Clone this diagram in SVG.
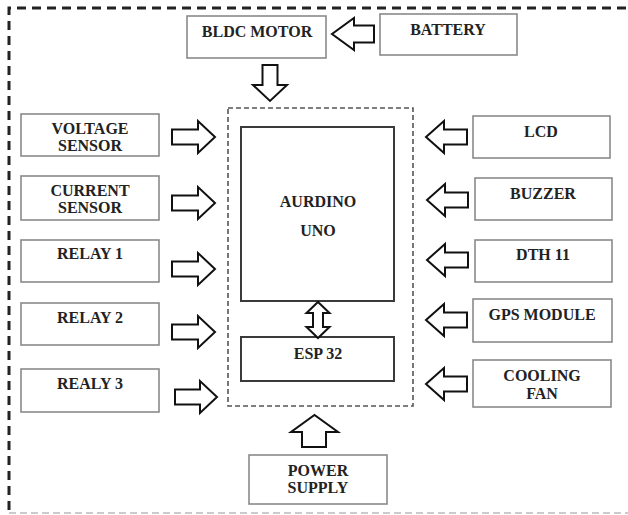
<svg xmlns="http://www.w3.org/2000/svg" width="628" height="515" viewBox="0 0 628 515">
<style>
.box{fill:#fff;stroke:#8a8a8a;stroke-width:1.6}
.core{fill:#fff;stroke:#3a3a3a;stroke-width:2}
.t{font-family:"Liberation Serif","Times New Roman",serif;font-weight:bold;font-size:16px;fill:#222;text-anchor:middle}
.arr{fill:#fff;stroke:#111;stroke-width:2;stroke-linejoin:miter}
</style>
<rect width="628" height="515" fill="#fff"/>
<g id="frame">
<path d="M9,510 V8 H628" fill="none" stroke="#222" stroke-width="3" stroke-dasharray="9,6"/>
<path d="M9,513 H628" fill="none" stroke="#bbb" stroke-width="1.5" stroke-dasharray="7,4"/>
</g>
<g id="controller">
<rect x="228" y="108" width="185" height="298" fill="none" stroke="#555" stroke-width="1.6" stroke-dasharray="5,3"/>
</g>
<g id="bldc"><rect class="box" x="187" y="16" width="139" height="42"/><text class="t" x="257" y="37">BLDC MOTOR</text></g>
<g id="battery"><rect class="box" x="380" y="14" width="137" height="41"/><text class="t" x="448" y="35">BATTERY</text></g>
<g id="arduino"><rect class="core" x="241" y="127" width="153" height="174"/><text class="t" x="318" y="207">AURDINO</text><text class="t" x="318" y="236">UNO</text></g>
<g id="esp32"><rect class="core" x="241" y="337" width="153" height="44"/><text class="t" x="318" y="359">ESP 32</text></g>
<g id="voltage"><rect class="box" x="21" y="114" width="138" height="42"/><text class="t" x="90" y="134">VOLTAGE</text><text class="t" x="90" y="151">SENSOR</text></g>
<g id="current"><rect class="box" x="21" y="176" width="138" height="44"/><text class="t" x="90" y="196">CURRENT</text><text class="t" x="90" y="213">SENSOR</text></g>
<g id="relay1"><rect class="box" x="21" y="240" width="138" height="42"/><text class="t" x="90" y="259">RELAY 1</text></g>
<g id="relay2"><rect class="box" x="21" y="303" width="138" height="42"/><text class="t" x="90" y="323">RELAY 2</text></g>
<g id="relay3"><rect class="box" x="21" y="369" width="138" height="43"/><text class="t" x="90" y="389">REALY 3</text></g>
<g id="lcd"><rect class="box" x="473" y="116" width="137" height="42"/><text class="t" x="541" y="137">LCD</text></g>
<g id="buzzer"><rect class="box" x="475" y="178" width="137" height="42"/><text class="t" x="543" y="199">BUZZER</text></g>
<g id="dth11"><rect class="box" x="475" y="240" width="137" height="42"/><text class="t" x="543" y="260">DTH 11</text></g>
<g id="gps"><rect class="box" x="473" y="299" width="139" height="43"/><text class="t" x="542" y="320">GPS MODULE</text></g>
<g id="fan"><rect class="box" x="473" y="360" width="138" height="47"/><text class="t" x="542" y="381">COOLING</text><text class="t" x="542" y="399">FAN</text></g>
<g id="power"><rect class="box" x="249" y="455" width="138" height="49"/><text class="t" x="318" y="476">POWER</text><text class="t" x="318" y="493">SUPPLY</text></g>
<g id="connectors">
<path class="arr" d="M374,25.5 H354 V18 L332,34 L354,50 V42.5 H374 Z"/>
<path class="arr" d="M262.5,65 H277.5 V85 H287 L270,101 L253,85 H262.5 Z"/>
<path class="arr" d="M318,302 L329.5,313 H323 V327 H329.5 L318,338 L306.5,327 H313 V313 H306.5 Z"/>
<path class="arr" d="M302,447 V432 H291 L314.5,415 L338,432 H326 V447 Z"/>
<path class="arr" d="M172,129.5 H198 V121 L215,137 L198,153 V144.5 H172 Z"/>
<path class="arr" d="M172,195.5 H198 V187 L215,203 L198,219 V210.5 H172 Z"/>
<path class="arr" d="M172,261.5 H198 V253 L215,269 L198,285 V276.5 H172 Z"/>
<path class="arr" d="M172,324.5 H198 V316 L215,332 L198,348 V339.5 H172 Z"/>
<path class="arr" d="M175,389.5 H200 V381 L217,397 L200,413 V404.5 H175 Z"/>
<path class="arr" d="M467,129.5 H444 V121 L426,137 L444,153 V144.5 H467 Z"/>
<path class="arr" d="M468,192.5 H445 V184 L427,200 L445,216 V207.5 H468 Z"/>
<path class="arr" d="M468,252.5 H445 V244 L427,260 L445,276 V267.5 H468 Z"/>
<path class="arr" d="M467,312.5 H444 V304 L426,320 L444,336 V327.5 H467 Z"/>
<path class="arr" d="M467,376.5 H444 V368 L426,384 L444,400 V391.5 H467 Z"/>
</g>
</svg>
